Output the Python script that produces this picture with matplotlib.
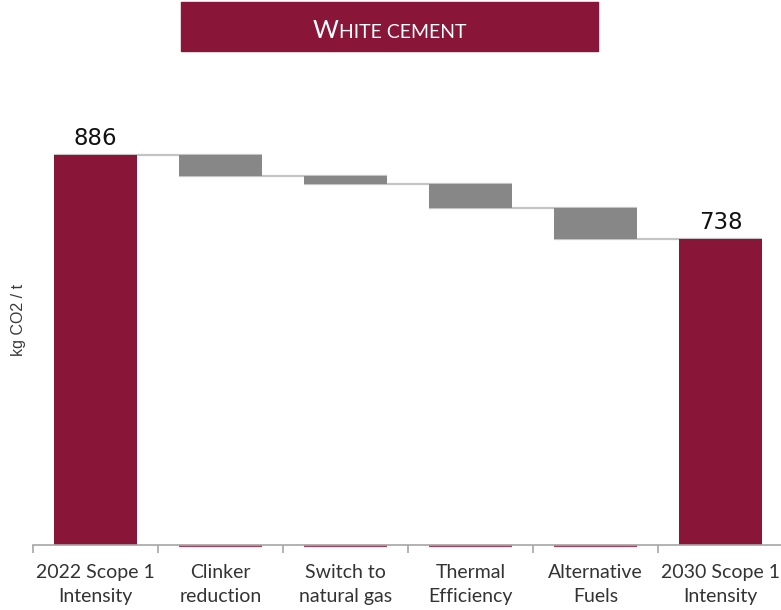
import matplotlib
matplotlib.use("Agg")
import matplotlib.pyplot as plt
from matplotlib.patches import Rectangle
from matplotlib.ticker import FixedLocator, NullLocator
import numpy as np

# kg CO2 per tonne, white cement pathway 2022 -> 2030
categories = ["2022 Scope 1\nIntensity", "Clinker\nreduction", "Switch to\nnatural gas",
              "Thermal\nEfficiency", "Alternative\nFuels", "2030 Scope 1\nIntensity"]
start_value = 886
steps = [-36, -14, -42, -56]
end_value = 738

maroon = "#891538"
step_grey = "#878787"
link_grey = "#c4c4c4"
axis_grey = "#a6a6a6"

y_min, y_max = 200, 1050
bar_w = 0.664

fig = plt.figure(figsize=(7.81, 6.10), dpi=100)
ax = fig.add_axes([33 / 781, 65 / 610, 750 / 781, (y_max - y_min) * 0.568 / 610])

x = np.arange(len(categories))
levels = np.concatenate([[start_value], start_value + np.cumsum(steps)])

# totals
ax.bar(x[0], start_value - y_min, bottom=y_min, width=bar_w, color=maroon, zorder=2)
ax.bar(x[-1], end_value - y_min, bottom=y_min, width=bar_w, color=maroon, zorder=2)

# reductions
for i, s in enumerate(steps):
    ax.bar(x[i + 1], -s, bottom=levels[i + 1], width=bar_w, color=step_grey, zorder=2)
    # faint base marks of the hidden bars, just under the axis line
    ax.hlines(y_min - 2.5, x[i + 1] - bar_w / 2, x[i + 1] + bar_w / 2, color=maroon,
              lw=1.6, alpha=0.8, zorder=1, clip_on=False)

# connector lines between consecutive bars
for i, lv in enumerate(levels):
    ax.hlines(lv, x[i] - bar_w / 2, x[i + 1] + bar_w / 2, color=link_grey, lw=1.6, zorder=1)

ax.text(x[0], start_value + 9, f"{start_value}", ha="center", va="bottom",
        fontsize=16.5, color="#111111", family="DejaVu Sans")
ax.text(x[-1], end_value + 9, f"{end_value}", ha="center", va="bottom",
        fontsize=16.5, color="#111111", family="DejaVu Sans")

ax.set_xlim(-0.5, len(categories) - 0.5)
ax.set_ylim(y_min, y_max)

for side in ["top", "right", "left"]:
    ax.spines[side].set_visible(False)
ax.spines["bottom"].set_color(axis_grey)
ax.spines["bottom"].set_linewidth(1.2)

ax.yaxis.set_major_locator(NullLocator())
ax.set_xticks(x)
ax.set_xticklabels(categories, fontsize=14, color="#333333", family="Lato",
                   linespacing=1.5)
ax.tick_params(axis="x", which="major", length=0, pad=14)
ax.xaxis.set_minor_locator(FixedLocator(np.arange(-0.5, len(categories), 1.0)))
ax.tick_params(axis="x", which="minor", length=6, color=axis_grey, width=1.2)

fig.text(18 / 781, 1 - 320 / 610, "kg CO2 / t", rotation=90, ha="center", va="center",
         fontsize=11.5, color="#3a3a3a", family="Liberation Sans")

# title banner in small caps
fig.patches.append(Rectangle((181 / 781, 1 - 51 / 610), 417 / 781, 49 / 610,
                             transform=fig.transFigure, color=maroon, zorder=0))
t1 = fig.text(313 / 781, 1 - 38 / 610, "W", ha="left", va="baseline",
              fontsize=18, color="white", family="Lato")
renderer = fig.canvas.get_renderer()
bb = t1.get_window_extent(renderer)
fig.text(bb.x1 / fig.bbox.width, 1 - 38 / 610, "HITE CEMENT", ha="left", va="baseline",
         fontsize=14, color="white", family="Lato")

fig.savefig("out.png", dpi=100)
